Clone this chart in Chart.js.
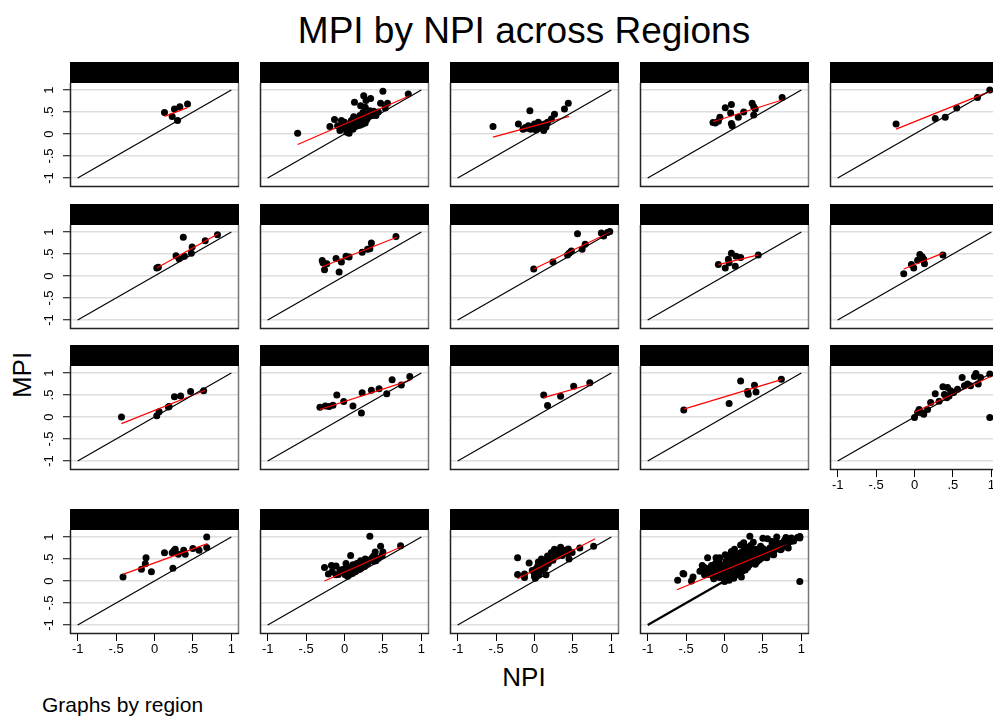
<!DOCTYPE html>
<html>
<head>
<meta charset="utf-8">
<script src="https://cdn.jsdelivr.net/npm/chart.js@4"></script>
<style>
  html, body { margin: 0; padding: 0; background: #fff; }
  body { width: 993px; height: 717px; overflow: hidden; position: relative;
         font-family: "Liberation Sans", Arial, sans-serif; color: #000; }
  canvas { position: absolute; }
  .txt { position: absolute; line-height: 1; white-space: nowrap; }
</style>
</head>
<body>
<div class="txt" style="left:524px;top:12px;font-size:37px;transform:translateX(-50%)">MPI by NPI across Regions</div>
<div class="txt" style="left:22px;top:375px;font-size:26px;transform:translate(-50%,-50%) rotate(-90deg)">MPI</div>
<div class="txt" style="left:524px;top:664px;font-size:26px;transform:translateX(-50%)">NPI</div>
<div class="txt" style="left:42px;top:694px;font-size:21px">Graphs by region</div>
<script>
// tick values shared by both axes
const tickVals = [-1, -0.5, 0, 0.5, 1];
const tickText = ['-1', '-.5', '0', '.5', '1'];
const diagNPI = [-1, 1];
const diagMPI = [-1, 1];

// values (NPI on x, MPI on y)
const p1npi = [0.13, 0.23, 0.26, 0.33, 0.30, 0.43];
const p1mpi = [0.49, 0.40, 0.57, 0.62, 0.31, 0.68];
const p2npi = [-0.61, -0.19, -0.13, -0.09, -0.06, -0.04, 0.00, 0.03, 0.05, 0.07, 0.09, 0.11, 0.13, 0.13, 0.16, 0.18, 0.20, 0.21, 0.22, 0.24, 0.25, 0.26, 0.27, 0.28, 0.30, 0.31, 0.33, 0.34, 0.36, 0.38, 0.41, 0.47, 0.50, 0.53, 0.56, 0.83, 0.05, 0.09, 0.12, 0.17, 0.23, 0.15, 0.19, 0.25, 0.29, 0.32, 0.35, 0.27, 0.20, 0.10, 0.44, 0.39, 0.02, 0.06, 0.14, -0.02];
const p2mpi = [0.02, 0.17, 0.33, 0.19, 0.08, 0.31, 0.27, 0.04, 0.08, 0.14, 0.19, 0.11, 0.72, 0.24, 0.34, 0.26, 0.42, 0.64, 0.30, 0.49, 0.87, 0.34, 0.61, 0.76, 0.45, 0.38, 0.53, 0.81, 0.42, 0.52, 0.42, 0.70, 0.97, 0.59, 0.70, 0.91, 0.19, 0.31, 0.39, 0.19, 0.22, 0.28, 0.35, 0.40, 0.33, 0.45, 0.48, 0.25, 0.20, 0.25, 0.50, 0.44, 0.12, 0.02, 0.17, 0.18];
const p3npi = [-0.54, -0.21, -0.06, -0.15, -0.12, -0.08, -0.05, -0.02, 0.00, 0.02, 0.05, 0.07, 0.09, 0.12, 0.13, 0.17, 0.22, 0.26, 0.39, 0.44, 0.10, 0.15, 0.04, -0.10];
const p3mpi = [0.17, 0.23, 0.53, 0.11, 0.15, 0.19, 0.11, 0.17, 0.23, 0.09, 0.27, 0.19, 0.14, 0.08, 0.23, 0.27, 0.34, 0.45, 0.57, 0.70, 0.20, 0.16, 0.13, 0.13];
const p4npi = [-0.15, -0.12, -0.08, -0.06, 0.01, 0.09, 0.08, 0.09, 0.10, 0.18, 0.25, 0.36, 0.38, 0.40, 0.38, 0.75];
const p4mpi = [0.26, 0.25, 0.29, 0.38, 0.60, 0.67, 0.48, 0.24, 0.19, 0.38, 0.50, 0.70, 0.62, 0.57, 0.43, 0.83];
const p5npi = [-0.24, 0.27, 0.40, 0.55, 0.82, 0.98];
const p5mpi = [0.23, 0.35, 0.38, 0.59, 0.83, 1.00];
const p6npi = [0.03, 0.05, 0.375, 0.28, 0.32, 0.39, 0.48, 0.49, 0.66, 0.82];
const p6mpi = [0.18, 0.20, 0.88, 0.46, 0.39, 0.45, 0.52, 0.66, 0.80, 0.94];
const p7npi = [-0.29, -0.28, -0.26, -0.23, -0.11, -0.07, -0.04, 0.02, 0.06, 0.23, 0.30, 0.33, 0.35, 0.67];
const p7mpi = [0.35, 0.30, 0.14, 0.28, 0.40, 0.09, 0.32, 0.45, 0.43, 0.54, 0.61, 0.62, 0.75, 0.90];
const p8npi = [-0.01, 0.24, 0.43, 0.45, 0.48, 0.56, 0.62, 0.66, 0.87, 0.90, 0.95, 0.98];
const p8mpi = [0.16, 0.32, 0.48, 0.52, 0.57, 0.96, 0.61, 0.72, 0.98, 0.91, 0.99, 1.01];
const p9npi = [-0.08, 0.01, 0.05, 0.06, 0.09, 0.14, 0.15, 0.21, 0.44];
const p9mpi = [0.26, 0.18, 0.38, 0.30, 0.52, 0.22, 0.45, 0.42, 0.48];
const p10npi = [-0.14, -0.04, -0.01, 0.04, 0.07, 0.10, 0.12, 0.13, 0.37];
const p10mpi = [0.05, 0.26, 0.18, 0.36, 0.49, 0.44, 0.38, 0.28, 0.48];
const p11npi = [-0.43, 0.03, 0.06, 0.18, 0.19, 0.26, 0.34, 0.47, 0.64];
const p11mpi = [0.00, 0.03, 0.12, 0.23, 0.24, 0.46, 0.48, 0.58, 0.60];
const p12npi = [-0.32, -0.25, -0.20, -0.15, -0.10, -0.01, 0.11, 0.22, 0.23, 0.35, 0.45, 0.55, 0.62, 0.74, 0.85];
const p12mpi = [0.22, 0.25, 0.24, 0.27, 0.50, 0.35, 0.25, 0.09, 0.55, 0.61, 0.64, 0.53, 0.85, 0.73, 0.92];
const p13npi = [0.12, 0.17, 0.34, 0.51, 0.72];
const p13mpi = [0.50, 0.26, 0.47, 0.70, 0.78];
const p14npi = [-0.53, 0.06, 0.21, 0.30, 0.31, 0.39, 0.41, 0.74];
const p14mpi = [0.16, 0.31, 0.82, 0.58, 0.52, 0.72, 0.57, 0.86];
const p15npi = [0.00, 0.06, 0.09, 0.12, 0.17, 0.27, 0.32, 0.37, 0.39, 0.43, 0.45, 0.51, 0.56, 0.62, 0.65, 0.73, 0.80, 0.83, 0.86, 0.98, 0.98, 0.04, 0.21, 0.42, 0.47, 0.69, 0.78];
const p15mpi = [-0.01, 0.17, 0.10, 0.06, 0.17, 0.53, 0.36, 0.69, 0.51, 0.67, 0.48, 0.56, 0.63, 0.90, 0.71, 0.71, 0.99, 0.75, 0.90, 0.98, -0.01, 0.10, 0.33, 0.44, 0.60, 0.75, 0.92];
const p16npi = [-0.41, -0.17, -0.12, -0.11, -0.04, 0.13, 0.23, 0.25, 0.27, 0.24, 0.31, 0.38, 0.40, 0.50, 0.58, 0.68, 0.68];
const p16mpi = [0.09, 0.27, 0.39, 0.53, 0.21, 0.64, 0.64, 0.68, 0.72, 0.29, 0.61, 0.70, 0.61, 0.74, 0.70, 1.00, 0.76];
const p17npi = [-0.26, -0.17, -0.11, -0.21, -0.16, -0.11, -0.08, -0.04, 0.01, 0.04, 0.05, 0.08, 0.02, 0.09, 0.13, 0.16, 0.18, 0.21, 0.24, 0.27, 0.30, 0.33, 0.35, 0.38, 0.40, 0.41, 0.47, 0.49, 0.50, 0.73, -0.015, 0.015, 0.07, 0.11, 0.14, 0.20, 0.23, 0.26, 0.31, 0.36, 0.00, 0.06, 0.12, 0.19, 0.28, 0.33, 0.44, 0.38, -0.06, 0.10, 0.15, 0.22];
const p17mpi = [0.31, 0.35, 0.34, 0.16, 0.21, 0.14, 0.15, 0.21, 0.14, 0.11, 0.23, 0.58, 0.40, 0.31, 0.25, 0.40, 0.33, 0.46, 0.37, 0.50, 0.40, 1.02, 0.50, 0.57, 0.66, 0.46, 0.79, 0.58, 0.66, 0.80, 0.27, 0.25, 0.18, 0.37, 0.21, 0.27, 0.44, 0.33, 0.44, 0.53, 0.20, 0.30, 0.30, 0.38, 0.42, 0.47, 0.52, 0.45, 0.25, 0.17, 0.35, 0.30];
const p18npi = [-0.22, -0.22, -0.13, -0.07, -0.13, -0.03, 0.00, 0.01, 0.02, 0.05, 0.07, 0.09, 0.11, 0.13, 0.15, 0.17, 0.19, 0.22, 0.25, 0.28, 0.30, 0.34, 0.38, 0.41, 0.44, 0.45, 0.49, 0.59, 0.77, 0.03, 0.06, 0.08, 0.10, 0.14, 0.18, 0.20, 0.24, 0.27, 0.32, 0.36, 0.40, 0.12, 0.04, 0.16, 0.26, 0.35, 0.43, 0.21, 0.00];
const p18mpi = [0.53, 0.15, 0.16, 0.41, 0.08, 0.24, 0.14, 0.06, 0.28, 0.43, 0.35, 0.50, 0.24, 0.40, 0.14, 0.57, 0.46, 0.65, 0.54, 0.69, 0.57, 0.77, 0.69, 0.65, 0.73, 0.50, 0.65, 0.75, 0.79, 0.20, 0.15, 0.28, 0.38, 0.30, 0.40, 0.52, 0.47, 0.60, 0.62, 0.58, 0.70, 0.45, 0.33, 0.48, 0.72, 0.66, 0.62, 0.58, 0.10];

// the last panel pools every region
const npiByPanel = [p1npi, p2npi, p3npi, p4npi, p5npi, p6npi, p7npi, p8npi, p9npi, p10npi,
                    p11npi, p12npi, p13npi, p14npi, p15npi, p16npi, p17npi, p18npi];
const mpiByPanel = [p1mpi, p2mpi, p3mpi, p4mpi, p5mpi, p6mpi, p7mpi, p8mpi, p9mpi, p10mpi,
                    p11mpi, p12mpi, p13mpi, p14mpi, p15mpi, p16mpi, p17mpi, p18mpi];
npiByPanel.push([].concat(...npiByPanel));
mpiByPanel.push([].concat(...mpiByPanel));

// red fitted lines, end points
const fitNPI = [[0.13, 0.43], [-0.61, 0.85], [-0.54, 0.45], [-0.15, 0.76], [-0.24, 1.0], [0.03, 0.83], [-0.29, 0.68], [-0.01, 0.99], [-0.08, 0.44], [-0.14, 0.37],
                [-0.43, 0.66], [-0.32, 0.86], [0.12, 0.74], [-0.53, 0.74], [0.0, 0.99], [-0.41, 0.69], [-0.26, 0.74], [-0.22, 0.79], [-0.62, 0.94]];
const fitMPI = [[0.40, 0.60], [-0.24, 0.87], [-0.07, 0.40], [0.28, 0.78], [0.11, 0.98], [0.18, 0.96], [0.21, 0.88], [0.16, 1.0], [0.26, 0.48], [0.16, 0.52],
                [-0.15, 0.61], [0.17, 0.84], [0.44, 0.75], [0.18, 0.85], [0.11, 0.92], [0.15, 0.85], [0.0, 0.78], [0.05, 0.96], [-0.20, 0.92]];

// panel grid placement
const colLeft = [70, 260, 450, 640, 830];
const rowTop = [62, 204, 345, 509];
const headH = 21, plotW = 172, plotH = 104, yAxisW = 40, xAxisH = 30;

const panelFrame = {
  id: 'panelFrame',
  beforeDraw(chart) {
    const a = chart.chartArea, ctx = chart.ctx;
    ctx.save();
    ctx.fillStyle = '#000';
    ctx.fillRect(a.left, 0, a.right - a.left, a.top);
    ctx.restore();
  },
  afterDraw(chart) {
    const a = chart.chartArea, ctx = chart.ctx;
    ctx.save();
    ctx.lineWidth = 1.5;
    ctx.strokeStyle = '#777';
    ctx.beginPath();
    ctx.moveTo(a.right - 0.5, a.top);
    ctx.lineTo(a.right - 0.5, a.bottom);
    ctx.stroke();
    ctx.strokeStyle = '#222';
    ctx.beginPath();
    ctx.moveTo(a.left + 0.5, a.top);
    ctx.lineTo(a.left + 0.5, a.bottom - 0.5);
    ctx.lineTo(a.right, a.bottom - 0.5);
    ctx.stroke();
    ctx.restore();
  }
};

function pts(xs, ys) {
  return xs.map((x, k) => ({ x: x, y: ys[k] }));
}

function drawPanel(i) {
  const row = Math.floor(i / 5), col = i % 5;
  const showX = row === 3 || (row === 2 && col === 4);
  const showY = col === 0;
  const cv = document.createElement('canvas');
  cv.width = yAxisW + plotW + 1;
  cv.height = headH + plotH + xAxisH;
  cv.style.left = (colLeft[col] - yAxisW) + 'px';
  cv.style.top = rowTop[row] + 'px';
  document.body.appendChild(cv);

  new Chart(cv, {
    type: 'scatter',
    data: {
      datasets: [
        { type: 'line', data: pts(diagNPI, diagMPI), borderColor: '#000', borderWidth: i === 18 ? 2.2 : 1.2, pointRadius: 0, fill: false },
        { type: 'line', data: pts(fitNPI[i], fitMPI[i]), borderColor: '#ff0000', borderWidth: 1.2, pointRadius: 0, fill: false },
        { data: pts(npiByPanel[i], mpiByPanel[i]), backgroundColor: '#000', borderWidth: 0, pointRadius: 3.5 }
      ]
    },
    options: {
      responsive: false,
      animation: false,
      layout: { padding: { top: headH, right: 1, left: 0, bottom: 0 } },
      plugins: { legend: { display: false }, tooltip: { enabled: false } },
      scales: {
        x: {
          type: 'linear', min: -1.1, max: 1.1,
          afterBuildTicks: s => { s.ticks = tickVals.map(v => ({ value: v })); },
          afterFit: s => { s.height = xAxisH; },
          border: { display: false },
          grid: { drawOnChartArea: false, drawTicks: showX, tickLength: 7, tickColor: '#000', tickWidth: 1 },
          ticks: { display: showX, padding: 1, color: '#000', maxRotation: 0, autoSkip: false,
                   font: { family: 'Liberation Sans, Arial, sans-serif', size: 13 },
                   callback: v => tickText[tickVals.indexOf(v)] }
        },
        y: {
          type: 'linear', min: -1.205, max: 1.16,
          afterBuildTicks: s => { s.ticks = tickVals.map(v => ({ value: v })); },
          afterFit: s => { s.width = yAxisW; },
          border: { display: false },
          grid: { color: '#dedede', lineWidth: 1.5, drawTicks: showY, tickLength: 7, tickColor: '#000', tickWidth: 1 },
          ticks: { display: showY, padding: 6, color: '#000', minRotation: 90, maxRotation: 90, crossAlign: 'center',
                   font: { family: 'Liberation Sans, Arial, sans-serif', size: 13 },
                   callback: v => tickText[tickVals.indexOf(v)] }
        }
      }
    },
    plugins: [panelFrame]
  });
}

for (let i = 0; i < 19; i++) drawPanel(i);
</script>
</body>
</html>
